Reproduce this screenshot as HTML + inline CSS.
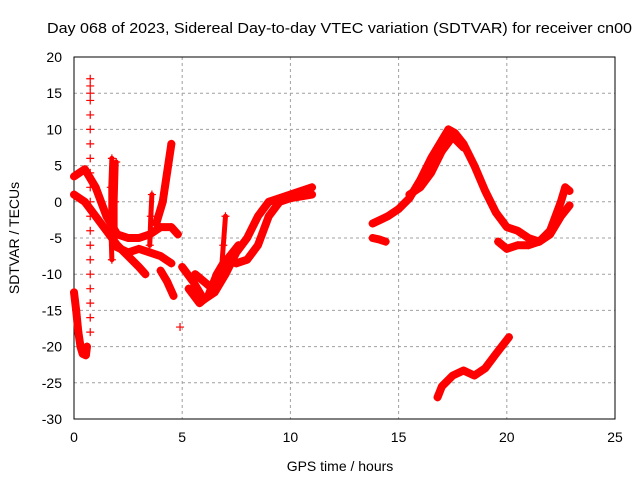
<!DOCTYPE html>
<html><head><meta charset="utf-8"><style>
body{margin:0;background:#fff}
svg text{font-family:"Liberation Sans",sans-serif;font-size:14px;fill:#000}
</style></head><body>
<svg id="chart" width="640" height="480" viewBox="0 0 640 480">
<rect width="640" height="480" fill="#fff"/>
<text x="47" y="33" textLength="585" lengthAdjust="spacingAndGlyphs" style="font-size:15px">Day 068 of 2023, Sidereal Day-to-day VTEC variation (SDTVAR) for receiver cn00</text>
<g id="grid"></g><g id="axes"></g><g id="marks"></g>
<text x="340" y="471" text-anchor="middle">GPS time / hours</text>
<text transform="translate(19,238) rotate(-90)" text-anchor="middle">SDTVAR / TECUs</text>
</svg>
<script>
const xTicks=[0,5,10,15,20,25];
const yTicks=[20,15,10,5,0,-5,-10,-15,-20,-25,-30];
const bandA=[[0,3.5],[0.5,4.5],[1,2],[1.5,-2],[2,-4.5],[2.5,-5],[3,-5],[3.5,-4.5],[4,-3.5],[4.5,-3.5],[4.8,-4.5]];
const bandB=[[0,1],[0.5,0],[1,-2],[1.5,-4],[2,-6],[2.5,-7.5],[3,-9],[3.3,-10]];
const bandC=[[1.8,-6],[2.5,-7],[3,-6.5],[3.5,-7],[4,-7.5],[4.5,-8.5]];
const bandD=[[4,-9.5],[4.3,-11],[4.6,-13]];
const dip=[[0,-12.5],[0.1,-15],[0.2,-18],[0.3,-20],[0.4,-21],[0.55,-21.2],[0.6,-20]];
const spike1=[[3.8,-3],[4.1,0],[4.3,4],[4.5,8]];
const spike2=[[1.75,-8],[1.7,-3],[1.7,2],[1.75,6]];
const spike3=[[1.9,-6],[1.9,0],[1.95,5.5]];
const spike4=[[6.8,-10],[6.9,-6],[7.0,-2]];
const spike5=[[3.5,-6],[3.55,-2],[3.6,1]];
const mid1=[[5,-9],[5.5,-11],[6,-13.5],[6.5,-12.5],[7,-10],[7.5,-7],[8,-5],[8.5,-2],[9,0],[9.5,0.5],[10,1],[10.5,1.5],[11,2]];
const mid2=[[5.3,-12],[5.8,-14],[6.2,-13],[6.6,-10],[7,-8],[7.5,-8.5],[8,-8],[8.5,-6],[9,-2],[9.5,0],[10,0.5],[11,1]];
const mid3=[[5.6,-10],[6,-11],[6.4,-12],[6.8,-9],[7.2,-7.5],[7.6,-6]];
const right1=[[13.8,-3],[14.5,-2],[15,-1],[15.5,0.5],[16,3],[16.5,6],[17,8.5],[17.3,10],[17.6,9.5],[18,8],[18.5,5],[19,1.5],[19.5,-1.5],[20,-3.5],[20.5,-4],[21,-5],[21.5,-5.5],[22,-4],[22.5,0],[22.7,2],[22.9,1.5]];
const right2=[[15.5,1],[16,2],[16.5,4],[17,7],[17.5,9],[18,7.5]];
const right3=[[21.5,-5.5],[22,-4.5],[22.5,-2],[22.9,-0.5]];
const right4=[[19.6,-5.5],[20,-6.5],[20.5,-6],[21,-6],[21.5,-5.5]];
const right5=[[13.8,-5],[14.1,-5.2],[14.4,-5.5]];
const bottom=[[16.8,-27],[17,-25.5],[17.5,-24],[18,-23.3],[18.5,-24],[19,-23],[19.5,-21],[20.1,-18.7]];
const colT=[0.75,0.75,0.75,0.75,0.75,0.75,0.75,0.75,0.75,0.75,0.75,0.75,0.75,0.75,0.75,0.75,0.75,0.75,0.75,0.75];
const colV=[17,16,15,14,12,10,8,6,4,2,0,-2,-4,-6,-8,-10,-12,-14,-16,-18];
const extraT=[4.9];
const extraV=[-17.3];
const tracks=[bandA,bandB,bandC,bandD,dip,spike1,mid1,mid2,mid3,right1,right2,right3,right4,right5,bottom];
const thinTracks=[spike2,spike3,spike4,spike5];
const X=t=>74+t*21.64, Y=v=>57+(20-v)*7.24;
const NS='http://www.w3.org/2000/svg';
function mk(tag,attrs,parent){const e=document.createElementNS(NS,tag);for(const k in attrs)e.setAttribute(k,attrs[k]);parent.appendChild(e);return e;}
const grid=document.getElementById('grid'),axes=document.getElementById('axes'),marks=document.getElementById('marks');
xTicks.forEach(t=>{
 if(t>0&&t<25){const g=mk('line',{x1:X(t),x2:X(t),y1:57,y2:419,stroke:'#a0a0a0','stroke-dasharray':'3,3'},grid);
 
 }
 const l=mk('text',{x:X(t),y:442,'text-anchor':'middle'},axes);l.textContent=t;
 
 
});
yTicks.forEach(v=>{
 if(v>-30&&v<20){const g=mk('line',{x1:74,x2:615,y1:Y(v),y2:Y(v),stroke:'#a0a0a0','stroke-dasharray':'3,3'},grid);
 
 }
 const l=mk('text',{x:62,y:Y(v)+5,'text-anchor':'end'},axes);l.textContent=v;
 
 
});
const frame=mk('rect',{x:74,y:57,width:541,height:362,fill:'none',stroke:'#000'},axes);


function plus(t,v,s){const x=X(t),y=Y(v);const p=mk('path',{d:`M${x-s} ${y}H${x+s}M${x} ${y-s}V${y+s}`,stroke:'#f00','stroke-width':1.2},marks);
 
 }
function drawTrack(tr,w){
 const pl=mk('polyline',{points:tr.map(p=>X(p[0])+','+Y(p[1])).join(' '),fill:'none',stroke:'#f00','stroke-width':w,'stroke-linejoin':'round','stroke-linecap':'round'},marks);
 
 
 tr.forEach(p=>plus(p[0],p[1],4));
}
tracks.forEach(tr=>drawTrack(tr,8));
thinTracks.forEach(tr=>drawTrack(tr,5));
colT.forEach((t,i)=>plus(t,colV[i],4));
extraT.forEach((t,i)=>plus(t,extraV[i],4));
</script>
</body></html>
